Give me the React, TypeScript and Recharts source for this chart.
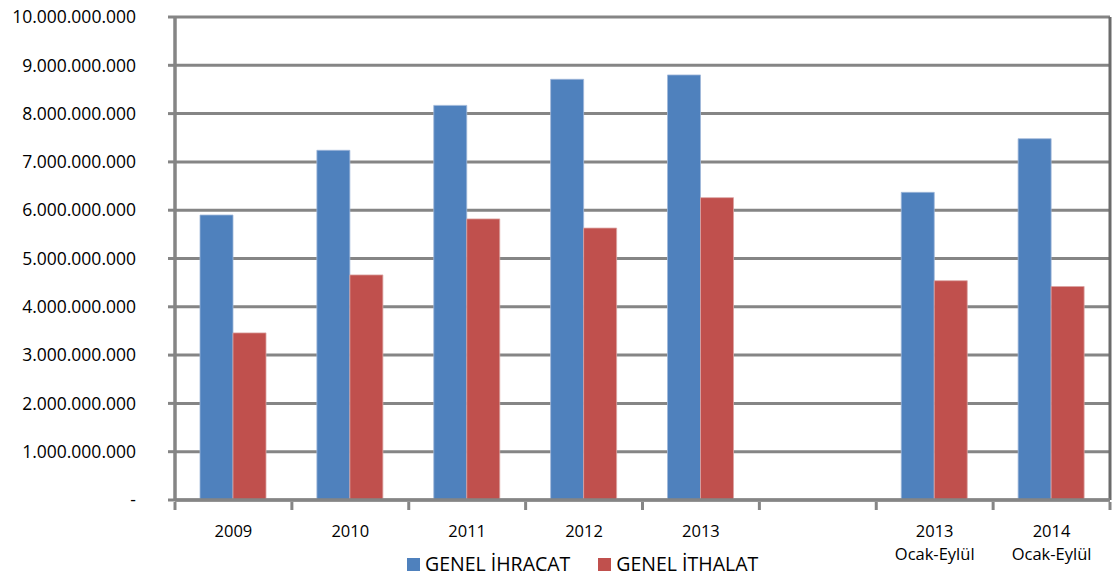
import React from "react";
import {
  BarChart,
  Bar,
  XAxis,
  YAxis,
  CartesianGrid,
  Legend,
  ReferenceLine,
} from "recharts";

const categories = [
  "2009",
  "2010",
  "2011",
  "2012",
  "2013",
  "",
  "2013\nOcak-Eylül",
  "2014\nOcak-Eylül",
];
const ihracat = [5.9e9, 7.24e9, 8.17e9, 8.71e9, 8.8e9, null, 6.37e9, 7.48e9];
const ithalat = [3.46e9, 4.66e9, 5.82e9, 5.63e9, 6.26e9, null, 4.54e9, 4.42e9];
const yTicks = [0, 1e9, 2e9, 3e9, 4e9, 5e9, 6e9, 7e9, 8e9, 9e9, 1e10];

const seriesNames = { ihracat: "GENEL İHRACAT", ithalat: "GENEL İTHALAT" };
const BLUE = "#4F81BD";
const RED = "#C0504D";
const GRID = "#858585";
const FONT = "'Open Sans', 'Noto Sans', sans-serif";

const W = 1113;
const H = 576;
const PLOT_LEFT = 175;
const PLOT_RIGHT = 1110;
const BAND = (PLOT_RIGHT - PLOT_LEFT) / categories.length;

const data = categories.map((c, i) => ({
  name: c,
  ihracat: ihracat[i],
  ithalat: ithalat[i],
}));

// 10.000.000.000 style, zero shown as a dash
const fmt = (v: number) =>
  v === 0 ? "-" : String(Math.round(v)).replace(/\B(?=(\d{3})+(?!\d))/g, ".");

function XTick(props: any) {
  const { x, y, payload, index } = props;
  const lines = String(payload.value).split("\n");
  const left = x - BAND / 2;
  return (
    <g>
      <line x1={left} x2={left} y1={y} y2={y + 8} stroke={GRID} strokeWidth={3} />
      {index === categories.length - 1 && (
        <line x1={x + BAND / 2} x2={x + BAND / 2} y1={y} y2={y + 8} stroke={GRID} strokeWidth={3} />
      )}
      <text x={x} y={y + 35} textAnchor="middle" fontFamily={FONT} fontSize={16.5} fill="#000">
        {lines.map((l, i) => (
          <tspan key={i} x={x} dy={i === 0 ? 0 : 23}>
            {l}
          </tspan>
        ))}
      </text>
    </g>
  );
}

function LegendContent() {
  const item = (color: string, label: string, ml: number) => (
    <div style={{ display: "flex", alignItems: "center", marginLeft: ml }}>
      <span style={{ width: 13, height: 13, background: color, marginRight: 5, display: "inline-block" }} />
      <span>{label}</span>
    </div>
  );
  return (
    <div style={{ display: "flex", alignItems: "center", fontFamily: FONT, fontSize: 19.5, color: "#000", lineHeight: "26px" }}>
      {item(BLUE, seriesNames.ihracat, 0)}
      {item(RED, seriesNames.ithalat, 28)}
    </div>
  );
}

export default function App() {
  return (
    <div style={{ position: "absolute", left: 0, top: 0, width: W, height: H, background: "#fff" }}>
      <BarChart
        width={W}
        height={H}
        data={data}
        margin={{ top: 17, right: W - PLOT_RIGHT, left: 0, bottom: 0 }}
        barCategoryGap={25}
        barGap={0}
      >
        <CartesianGrid vertical={false} stroke={GRID} strokeWidth={3} />
        <XAxis
          dataKey="name"
          height={50}
          tickSize={0}
          tick={<XTick />}
          interval={0}
          axisLine={{ stroke: GRID, strokeWidth: 3.5 }}
        />
        <YAxis
          width={PLOT_LEFT}
          domain={[0, 1e10]}
          ticks={yTicks}
          interval={0}
          tickFormatter={fmt}
          tickSize={7}
          tickMargin={32}
          tickLine={{ stroke: GRID, strokeWidth: 3 }}
          axisLine={{ stroke: GRID, strokeWidth: 3.5 }}
          tick={{ fill: "#000", fontSize: 17.5, fontFamily: FONT }}
        />
        <ReferenceLine
          x={categories[categories.length - 1]}
          position="end"
          stroke="#6b6b6b"
          strokeWidth={3}
        />
        <Bar dataKey="ihracat" name={seriesNames.ihracat} fill={BLUE} stroke="#9fb8d9" strokeWidth={0.8} isAnimationActive={false} />
        <Bar dataKey="ithalat" name={seriesNames.ithalat} fill={RED} stroke="#dba3a2" strokeWidth={0.8} isAnimationActive={false} />
        <Legend
          verticalAlign="bottom"
          height={26}
          content={<LegendContent />}
          wrapperStyle={{ left: 407, top: 551, width: "auto" }}
        />
      </BarChart>
    </div>
  );
}
